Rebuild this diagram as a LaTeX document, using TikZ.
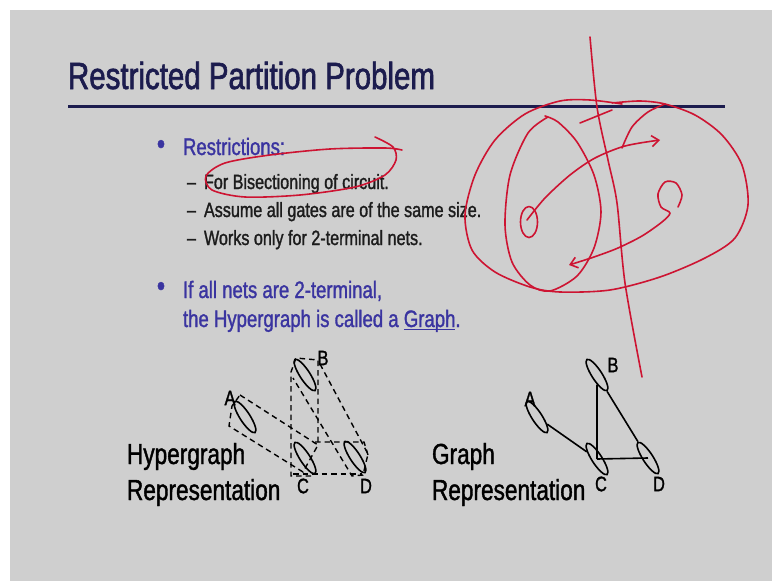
\documentclass[tikz,border=0pt]{standalone}
\usepackage{fontspec}
\setmainfont{Liberation Sans}
\newfontfamily\nar[FakeStretch=0.78,FakeBold=1.3]{Liberation Sans}
\newfontfamily\nartitle[FakeStretch=0.78,FakeBold=1.6]{Liberation Sans}
\usetikzlibrary{shapes.geometric,arrows.meta}
\definecolor{slidebg}{RGB}{207,207,207}
\definecolor{titlecol}{RGB}{28,28,78}
\definecolor{bulletblue}{RGB}{58,52,160}
\definecolor{textcol}{RGB}{28,28,28}
\definecolor{penred}{RGB}{205,20,50}
\newcommand\ulword[1]{\setbox0\hbox{#1}\rlap{\rule[-3pt]{\wd0}{1.3pt}}#1}
\tikzset{
  txt/.style={anchor=base west, inner sep=0pt, outer sep=0pt},
  titletxt/.style={txt, text=titlecol, font=\nartitle\fontsize{37.8}{40}\selectfont},
  bultxt/.style={txt, text=bulletblue, font=\nar\fontsize{23.8}{26}\selectfont},
  subtxt/.style={txt, text=textcol, font=\nar\fontsize{20.7}{23}\selectfont},
  reptxt/.style={txt, text=black, font=\nar\fontsize{29}{31}\selectfont},
  lettxt/.style={anchor=center, inner sep=0pt, text=black, font=\nar\fontsize{21}{23}\selectfont},
  bul/.style={anchor=center, inner sep=0pt, text=bulletblue, font=\nar\fontsize{30}{30}\selectfont},
  cell/.style={draw=black, ellipse, line width=1.6pt, minimum width=37pt, minimum height=10pt, inner sep=0pt, rotate=-57},
  net/.style={draw=black, line width=1.4pt, dash pattern=on 5.5pt off 4pt},
  edge/.style={draw=black, line width=1.6pt},
  ink/.style={draw=penred, line width=1.6pt, line cap=round, line join=round},
}
\begin{document}
\begin{tikzpicture}[x=1pt,y=-1pt]
\useasboundingbox (0,0) rectangle (772,581);
\fill[white] (0,0) rectangle (772,581);
\fill[slidebg] (10,10) rectangle (772,581);

% title and rule
\node[titletxt] (title) at (68,89) {Restricted Partition Problem};
\coordinate (ruleL) at (68,106);
\coordinate (ruleR) at (725,106);
\draw[titlecol, line width=3pt] (ruleL) -- (ruleR);

% bullets
\node[bul] (b1) at (161,147) {•};
\node[bultxt] (restr) at (183,155) {Restrictions:};
\node[subtxt] (d1) at (187,189) {–};
\node[subtxt] (s1) at (204,189) {For Bisectioning of circuit.};
\node[subtxt] (d2) at (187,217) {–};
\node[subtxt] (s2) at (204,217) {Assume all gates are of the same size.};
\node[subtxt] (d3) at (187,245) {–};
\node[subtxt] (s3) at (204,245) {Works only for 2-terminal nets.};
\node[bul] (b2) at (161,289) {•};
\node[bultxt] (if1) at (183,298) {If all nets are 2-terminal,};
\node[bultxt] (if2) at (183,327) {the Hypergraph is called a \ulword{Graph}.};

% hypergraph representation
\node[reptxt] (hyp1) at (127,464) {Hypergraph};
\node[reptxt] (hyp2) at (127,500) {Representation};
\draw[net] (240,395) -- (318,445) -- (303,472) -- (229,426) -- (232,406) -- cycle;
\draw[net] (318,442) -- (318,360) -- (296,358) -- (291,372) -- (291,476) -- (312,476);
\draw[net] (320,364) -- (368,454) -- (363,475) -- (352,476) -- (293,378);
\draw[net] (315,442) -- (364,442) -- (368,455);
\draw[net] (293,474) -- (362,474);
\node[cell] (hA) at (245,417) {};
\node[cell] (hB) at (305,375) {};
\node[cell] (hC) at (305,458) {};
\node[cell] (hD) at (355,457) {};
\node[lettxt] (lhA) at (230,398) {A};
\node[lettxt] (lhB) at (323,358) {B};
\node[lettxt] (lhC) at (303,486) {C};
\node[lettxt] (lhD) at (366,486) {D};

% graph representation
\node[reptxt] (gr1) at (432,464) {Graph};
\node[reptxt] (gr2) at (432,500) {Representation};
\node[cell] (gA) at (537,417) {};
\node[cell] (gB) at (597,375) {};
\node[cell] (gC) at (597,459) {};
\node[cell] (gD) at (648,458) {};
\node[lettxt] (lgA) at (530,399) {A};
\node[lettxt] (lgB) at (613,365) {B};
\node[lettxt] (lgC) at (601,484) {C};
\node[lettxt] (lgD) at (659,484) {D};
\draw[edge] (gA) -- (gC);
\draw[edge] (gB) -- (gC.center);
\draw[edge] (gC.center) -- (gD.center);
\draw[edge] (gB) -- (gD);

% red pen annotations
\draw[ink] plot[smooth] coordinates {(375,137) (393,147) (396,160) (385,175) (355,187) (300,195) (245,197) (212,190) (206,176) (225,163) (270,155) (330,149) (385,148) (402,150)};
\draw[ink] plot[smooth] coordinates {(590,37) (597,107) (608,160) (617,203) (625,283) (642,377)};
\draw[ink] plot[smooth] coordinates {(622,104) (590,100) (560,101) (525,114) (495,140) (475,175) (465,215) (472,250) (495,272) (530,287) (560,292) (610,290) (660,277) (705,258) (735,238) (748,205) (742,165) (722,135) (695,115) (665,104) (640,101) (612,103)};
\draw[ink] (580,123) -- (612,110);
\draw[ink] plot[smooth] coordinates {(548,117) (528,133) (510,175) (505,225) (512,262) (530,285) (550,291) (577,276) (594,248) (601,212) (594,175) (577,142) (558,122) (545,116)};
\draw[ink] plot[smooth] coordinates {(622,148) (632,127) (648,112) (665,104)};
\draw[ink] (529,222) ellipse[x radius=8.5, y radius=15.5];
\draw[ink, -{Straight Barb[length=7pt,width=11pt]}] plot[smooth] coordinates {(527,220) (545,198) (570,175) (595,158) (625,146) (660,140)};
\draw[ink, -{Straight Barb[length=7pt,width=11pt]}] plot[smooth] coordinates {(678,207) (682,195) (676,183) (665,182) (658,194) (661,207) (670,213) (662,222) (642,236) (618,248) (594,257) (569,265)};
\end{tikzpicture}
\end{document}
